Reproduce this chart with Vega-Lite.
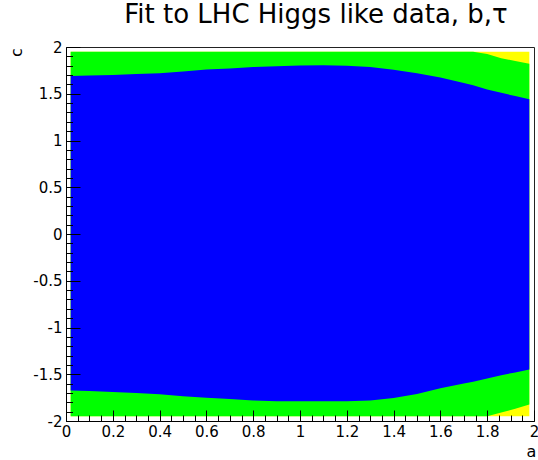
{
  "$schema": "https://vega.github.io/schema/vega-lite/v6.json",
  "width": 468,
  "height": 374,
  "autosize": {"type": "none"},
  "padding": {"left": 66, "top": 47, "right": 4, "bottom": 39},
  "background": "white",
  "config": {
    "view": {"stroke": "#222", "strokeWidth": 1},
    "font": "DejaVu Sans"
  },
  "title": {
    "text": "Fit to LHC Higgs like data, b,τ",
    "font": "DejaVu Sans",
    "fontSize": 26,
    "fontWeight": "normal",
    "color": "#000",
    "anchor": "middle",
    "frame": "group",
    "baseline": "alphabetic",
    "offset": -9,
    "dx": 16
  },
  "datasets": {
    "frame": [{"a0": 0.02, "a1": 1.98, "c0": -1.95, "c1": 1.95}],
    "bands": [
      {"a": 0.02, "blue_lo": -1.674, "blue_hi": 1.69, "green_lo": -1.95, "green_hi": 1.95},
      {"a": 0.1, "blue_lo": -1.68, "blue_hi": 1.695, "green_lo": -1.95, "green_hi": 1.95},
      {"a": 0.2, "blue_lo": -1.69, "blue_hi": 1.70, "green_lo": -1.95, "green_hi": 1.95},
      {"a": 0.3, "blue_lo": -1.70, "blue_hi": 1.71, "green_lo": -1.95, "green_hi": 1.95},
      {"a": 0.4, "blue_lo": -1.715, "blue_hi": 1.72, "green_lo": -1.95, "green_hi": 1.95},
      {"a": 0.5, "blue_lo": -1.735, "blue_hi": 1.737, "green_lo": -1.95, "green_hi": 1.95},
      {"a": 0.6, "blue_lo": -1.75, "blue_hi": 1.76, "green_lo": -1.95, "green_hi": 1.95},
      {"a": 0.7, "blue_lo": -1.765, "blue_hi": 1.77, "green_lo": -1.95, "green_hi": 1.95},
      {"a": 0.8, "blue_lo": -1.78, "blue_hi": 1.785, "green_lo": -1.95, "green_hi": 1.95},
      {"a": 0.9, "blue_lo": -1.788, "blue_hi": 1.795, "green_lo": -1.95, "green_hi": 1.95},
      {"a": 1.0, "blue_lo": -1.79, "blue_hi": 1.803, "green_lo": -1.95, "green_hi": 1.95},
      {"a": 1.1, "blue_lo": -1.79, "blue_hi": 1.805, "green_lo": -1.95, "green_hi": 1.95},
      {"a": 1.2, "blue_lo": -1.788, "blue_hi": 1.80, "green_lo": -1.95, "green_hi": 1.95},
      {"a": 1.3, "blue_lo": -1.78, "blue_hi": 1.785, "green_lo": -1.95, "green_hi": 1.95},
      {"a": 1.4, "blue_lo": -1.755, "blue_hi": 1.758, "green_lo": -1.95, "green_hi": 1.95},
      {"a": 1.5, "blue_lo": -1.71, "blue_hi": 1.72, "green_lo": -1.95, "green_hi": 1.95},
      {"a": 1.6, "blue_lo": -1.65, "blue_hi": 1.675, "green_lo": -1.95, "green_hi": 1.95},
      {"a": 1.7, "blue_lo": -1.60, "blue_hi": 1.615, "green_lo": -1.95, "green_hi": 1.95},
      {"a": 1.74, "blue_lo": -1.58, "blue_hi": 1.59, "green_lo": -1.95, "green_hi": 1.95},
      {"a": 1.8, "blue_lo": -1.545, "blue_hi": 1.545, "green_lo": -1.95, "green_hi": 1.925},
      {"a": 1.86, "blue_lo": -1.51, "blue_hi": 1.51, "green_lo": -1.91, "green_hi": 1.88},
      {"a": 1.92, "blue_lo": -1.48, "blue_hi": 1.475, "green_lo": -1.87, "green_hi": 1.85},
      {"a": 1.98, "blue_lo": -1.45, "blue_hi": 1.44, "green_lo": -1.824, "green_hi": 1.82}
    ]
  },
  "resolve": {"axis": {"x": "independent", "y": "independent"}},
  "layer": [
    {
      "data": {"name": "frame"},
      "mark": {"type": "rect", "color": "#ffff00"},
      "encoding": {
        "x": {
          "field": "a0", "type": "quantitative",
          "scale": {"domain": [0, 2], "nice": false, "zero": false},
          "axis": {
            "orient": "bottom",
            "title": "a",
            "titleFont": "DejaVu Sans", "titleFontSize": 16, "titleFontWeight": "normal", "titleColor": "#000",
            "titleX": 465, "titleY": 30, "titleAlign": "center", "titleBaseline": "middle", "titleAngle": 0,
            "values": [0, 0.2, 0.4, 0.6, 0.8, 1, 1.2, 1.4, 1.6, 1.8, 2],
            "labelExpr": "toString(datum.value)",
            "labelFont": "DejaVu Sans", "labelFontSize": 15, "labelColor": "#000",
            "labelFlush": false, "labelOverlap": false,
            "tickSize": -11, "tickColor": "#000", "tickWidth": 1,
            "labelPadding": 14,
            "domainColor": "#000", "domainWidth": 1,
            "grid": false, "zindex": 1
          }
        },
        "x2": {"field": "a1"},
        "y": {
          "field": "c0", "type": "quantitative",
          "scale": {"domain": [-2, 2], "nice": false, "zero": false},
          "axis": {
            "orient": "left",
            "title": "c",
            "titleFont": "DejaVu Sans", "titleFontSize": 16, "titleFontWeight": "normal", "titleColor": "#000",
            "titleX": -50, "titleY": 5, "titleAlign": "center", "titleBaseline": "middle", "titleAngle": 270,
            "values": [-2, -1.5, -1, -0.5, 0, 0.5, 1, 1.5, 2],
            "labelExpr": "toString(datum.value)",
            "labelFont": "DejaVu Sans", "labelFontSize": 15, "labelColor": "#000",
            "labelFlush": false, "labelOverlap": false,
            "tickSize": -14, "tickColor": "#000", "tickWidth": 1,
            "labelPadding": 18,
            "domainColor": "#000", "domainWidth": 1,
            "grid": false, "zindex": 1
          }
        },
        "y2": {"field": "c1"}
      }
    },
    {
      "data": {"name": "bands"},
      "mark": {"type": "area", "color": "#00ff00", "interpolate": "linear"},
      "encoding": {
        "x": {
          "field": "a", "type": "quantitative",
          "axis": {
            "orient": "bottom", "title": null,
            "values": [0.05, 0.1, 0.15, 0.25, 0.3, 0.35, 0.45, 0.5, 0.55, 0.65, 0.7, 0.75, 0.85, 0.9, 0.95, 1.05, 1.1, 1.15, 1.25, 1.3, 1.35, 1.45, 1.5, 1.55, 1.65, 1.7, 1.75, 1.85, 1.9, 1.95],
            "labels": false, "domain": false, "grid": false,
            "tickSize": -6, "tickColor": "#000", "tickWidth": 1, "zindex": 1
          }
        },
        "y": {
          "field": "green_lo", "type": "quantitative",
          "axis": {
            "orient": "left", "title": null,
            "values": [-1.9, -1.8, -1.7, -1.6, -1.4, -1.3, -1.2, -1.1, -0.9, -0.8, -0.7, -0.6, -0.4, -0.3, -0.2, -0.1, 0.1, 0.2, 0.3, 0.4, 0.6, 0.7, 0.8, 0.9, 1.1, 1.2, 1.3, 1.4, 1.6, 1.7, 1.8, 1.9],
            "labels": false, "domain": false, "grid": false,
            "tickSize": -6.5, "tickColor": "#000", "tickWidth": 1, "zindex": 1
          }
        },
        "y2": {"field": "green_hi"}
      }
    },
    {
      "data": {"name": "bands"},
      "mark": {"type": "area", "color": "#0000ff", "interpolate": "linear"},
      "encoding": {
        "x": {"field": "a", "type": "quantitative", "axis": null},
        "y": {"field": "blue_lo", "type": "quantitative", "axis": null},
        "y2": {"field": "blue_hi"}
      }
    }
  ]
}
